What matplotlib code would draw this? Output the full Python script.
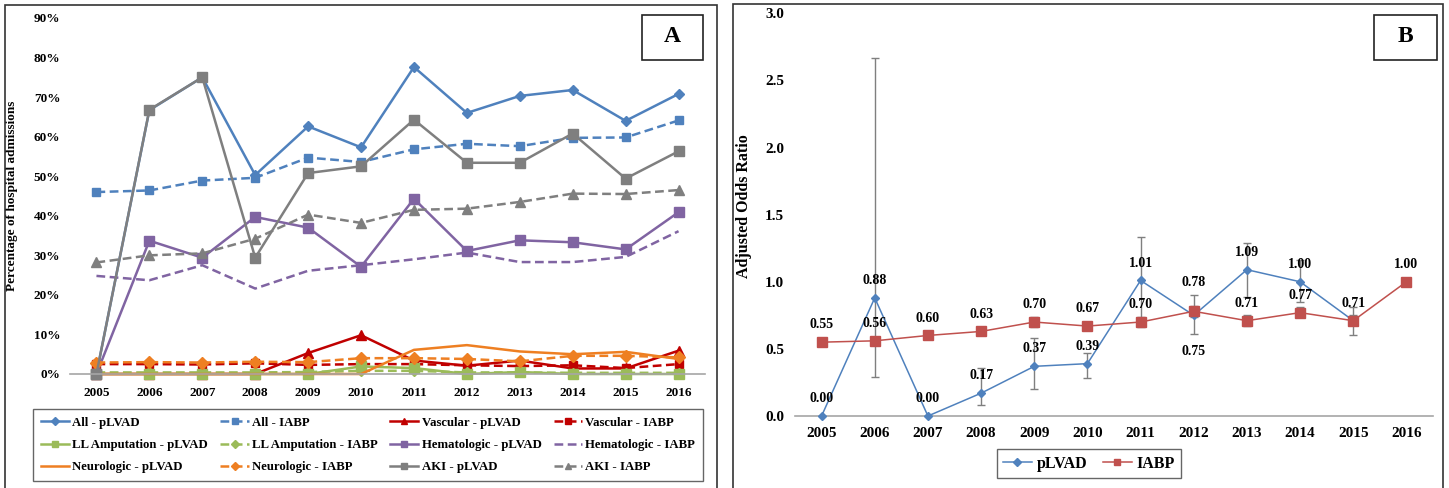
import numpy as np
import matplotlib
matplotlib.use('Agg')
from matplotlib import pyplot as plt
from matplotlib.patches import Rectangle
from matplotlib.ticker import FuncFormatter

# data
years = [2005, 2006, 2007, 2008, 2009, 2010, 2011, 2012, 2013, 2014, 2015, 2016]

# panel A, percentage of hospital admissions
all_plvad = [0, 66.7, 75.0, 50.3, 62.6, 57.3, 77.6, 66.0, 70.3, 71.8, 64.0, 70.8]
all_iabp = [46.0, 46.4, 48.9, 49.6, 54.7, 53.6, 56.8, 58.2, 57.6, 59.7, 59.8, 64.1]
vasc_plvad = [0, 0, 0, 0, 5.3, 9.8, 3.4, 2.1, 3.4, 1.4, 1.4, 5.9]
vasc_iabp = [2.5, 2.5, 2.4, 2.7, 2.3, 2.5, 2.5, 2.2, 2.0, 2.2, 1.5, 2.5]
ll_plvad = [0, 0, 0, 0, 0, 1.9, 1.5, 0, 0.5, 0, 0, 0]
ll_iabp = [0.4, 0.4, 0.4, 0.4, 0.5, 0.8, 0.8, 0.4, 0.4, 0.3, 0.3, 0.3]
hem_plvad = [0, 33.7, 29.4, 39.7, 37.0, 27.1, 44.3, 31.1, 33.8, 33.3, 31.5, 40.9]
hem_iabp = [24.8, 23.7, 27.5, 21.6, 26.1, 27.5, 29.0, 30.7, 28.3, 28.3, 29.6, 36.1]
neuro_plvad = [0, 0, 0, 0, 0, 0, 6.1, 7.3, 5.7, 5.0, 5.6, 3.8]
neuro_iabp = [2.9, 3.0, 2.9, 3.1, 3.0, 4.0, 4.0, 3.8, 3.2, 4.6, 4.6, 4.2]
aki_plvad = [0, 66.8, 75.0, 29.4, 50.8, 52.5, 64.3, 53.4, 53.4, 60.8, 49.4, 56.3]
aki_iabp = [28.2, 30.0, 30.5, 34.2, 40.3, 38.2, 41.5, 41.8, 43.5, 45.6, 45.5, 46.5]

# panel B, adjusted odds ratio (pLVAD has no 2016 value)
or_years_plvad = years[:11]
or_plvad = [0.00, 0.88, 0.00, 0.17, 0.37, 0.39, 1.01, 0.75, 1.09, 1.00, 0.71]
or_plvad_lo = [np.nan, 0.29, np.nan, 0.08, 0.20, 0.28, 0.72, 0.61, 0.89, 0.85, 0.60]
or_plvad_hi = [np.nan, 2.67, np.nan, 0.355, 0.58, 0.47, 1.33, 0.90, 1.29, 1.16, 0.81]
or_iabp = [0.55, 0.56, 0.60, 0.63, 0.70, 0.67, 0.70, 0.78, 0.71, 0.77, 0.71, 1.00]
or_iabp_lo = [0.53, 0.53, 0.57, 0.60, 0.66, 0.64, 0.66, 0.74, 0.67, 0.74, 0.68, np.nan]
or_iabp_hi = [0.57, 0.59, 0.63, 0.66, 0.74, 0.70, 0.74, 0.82, 0.75, 0.81, 0.75, np.nan]

BLUE = '#4F81BD'
DRED = '#C00000'
GREEN = '#9BBB59'
PURPLE = '#8064A2'
ORANGE = '#EE7F22'
GREY = '#7F7F7F'
RED = '#C0504D'

plt.rcParams['font.family'] = ['Liberation Serif', 'DejaVu Serif']
plt.rcParams['font.weight'] = 'bold'

fig = plt.figure(figsize=(14.49, 4.88), dpi=100)

# panel frames
fig.add_artist(Rectangle((5 / 1449, -0.05), 712 / 1449, 1.05 - 5 / 488,
                         transform=fig.transFigure, fill=False, ec='#333333', lw=1.2))
fig.add_artist(Rectangle((733 / 1449, -0.05), 710 / 1449, 1.05 - 4 / 488,
                         transform=fig.transFigure, fill=False, ec='#333333', lw=1.2))

# ---------------- panel A ----------------
axA = fig.add_axes([70 / 1449, 1 - 374 / 488, 635 / 1449, 356 / 488])
series = [
    ('All - pLVAD', all_plvad, BLUE, '-', 'D', 5.5),
    ('All - IABP', all_iabp, BLUE, '--', 's', 6),
    ('Vascular - pLVAD', vasc_plvad, DRED, '-', '^', 7),
    ('Vascular - IABP', vasc_iabp, DRED, '--', 's', 6),
    ('LL Amputation - pLVAD', ll_plvad, GREEN, '-', 's', 7),
    ('LL Amputation - IABP', ll_iabp, GREEN, '--', 'D', 5),
    ('Hematologic - pLVAD', hem_plvad, PURPLE, '-', 's', 7),
    ('Hematologic - IABP', hem_iabp, PURPLE, '--', None, 0),
    ('Neurologic - pLVAD', neuro_plvad, ORANGE, '-', None, 0),
    ('Neurologic - IABP', neuro_iabp, ORANGE, '--', 'D', 6),
    ('AKI - pLVAD', aki_plvad, GREY, '-', 's', 7),
    ('AKI - IABP', aki_iabp, GREY, '--', '^', 7),
]
handles = []
for label, vals, col, ls, mk, ms in series:
    h, = axA.plot(years, vals, color=col, ls=ls, lw=1.8, marker=mk, ms=ms,
                  mfc=col, mec=col, label=label, clip_on=False)
    if ls == '--':
        h.set_dashes((3.5, 1.8))
    handles.append(h)

axA.set_xlim(2004.5, 2016.5)
axA.set_ylim(0, 90)
axA.set_xticks(years)
axA.set_yticks(range(0, 91, 10))
axA.yaxis.set_major_formatter(FuncFormatter(lambda v, p: '%d%%' % v))
axA.tick_params(axis='both', length=0, labelsize=9.5)
axA.tick_params(axis='x', pad=9)
axA.tick_params(axis='y', pad=7)
for s in ['top', 'right', 'left']:
    axA.spines[s].set_visible(False)
axA.spines['bottom'].set_color('#A6A6A6')
axA.spines['bottom'].set_linewidth(1.2)
axA.set_ylabel('Percentage of hospital admissions', fontsize=9.5, fontweight='bold', labelpad=8)
axA.yaxis.set_label_coords(-52 / 635, 0.5)

# letter box
axA.text(672 / 1449, 1 - 37 / 488, 'A', transform=fig.transFigure, fontsize=17,
         fontweight='bold', ha='center', va='center')
fig.add_artist(Rectangle((642 / 1449, 1 - 60 / 488), 61 / 1449, 45 / 488,
                         transform=fig.transFigure, fill=False, ec='#222222', lw=1.2))

# legend, filled row by row
order = [0, 4, 8, 1, 5, 9, 2, 6, 10, 3, 7, 11]
leg = fig.legend([handles[i] for i in order], [series[i][0] for i in order],
                 loc='lower left', bbox_to_anchor=(33 / 1449, 1 - 481 / 488, 670 / 1449, 78 / 488),
                 mode='expand', ncol=4, fontsize=9.2, frameon=True, fancybox=False,
                 edgecolor='#404040', handlelength=2.2, handletextpad=0.25,
                 labelspacing=0.8, borderaxespad=0, columnspacing=0.4, borderpad=0.6)
leg.get_frame().set_linewidth(1.0)
for h in leg.legend_handles:
    h.set_markersize(4.5)

# ---------------- panel B ----------------
axB = fig.add_axes([795 / 1449, 1 - 416 / 488, 638 / 1449, 402.7 / 488])
lo = np.array(or_plvad) - np.array(or_plvad_lo)
hi = np.array(or_plvad_hi) - np.array(or_plvad)
axB.errorbar(or_years_plvad, or_plvad, yerr=[lo, hi], fmt='none', ecolor=GREY,
             elinewidth=1.0, capsize=3, capthick=1.0, zorder=2)
lo2 = np.array(or_iabp) - np.array(or_iabp_lo)
hi2 = np.array(or_iabp_hi) - np.array(or_iabp)
axB.errorbar(years, or_iabp, yerr=[lo2, hi2], fmt='none', ecolor=GREY,
             elinewidth=1.0, capsize=3, capthick=1.0, zorder=2)
pl, = axB.plot(or_years_plvad, or_plvad, color=BLUE, lw=1.1, marker='D', ms=4,
               label='pLVAD', zorder=3, clip_on=False)
ib, = axB.plot(years, or_iabp, color=RED, lw=1.1, marker='s', ms=6.5,
               label='IABP', zorder=4, clip_on=False)

lab_kw = dict(ha='center', va='center', fontsize=10, fontweight='bold', textcoords='offset points')
for i, (x, v) in enumerate(zip(or_years_plvad, or_plvad)):
    if x == 2015:
        continue
    dy = -26 if x == 2012 else 12.5
    axB.annotate('%.2f' % v, (x, v), xytext=(0, dy), **lab_kw)
for x, v in zip(years, or_iabp):
    dy = 21 if x == 2012 else 12.5
    axB.annotate('%.2f' % v, (x, v), xytext=(0, dy), **lab_kw)

axB.set_xlim(2004.5, 2016.5)
axB.set_ylim(0, 3.0)
axB.set_xticks(years)
axB.set_yticks(np.arange(0, 3.01, 0.5))
axB.yaxis.set_major_formatter(FuncFormatter(lambda v, p: '%.1f' % v))
axB.tick_params(axis='both', length=0, labelsize=11)
axB.tick_params(axis='x', pad=8)
axB.tick_params(axis='y', pad=8)
for s in ['top', 'right', 'left']:
    axB.spines[s].set_visible(False)
axB.spines['bottom'].set_color('#A6A6A6')
axB.spines['bottom'].set_linewidth(1.2)
axB.set_ylabel('Adjusted Odds Ratio', fontsize=11.5, fontweight='bold')
axB.yaxis.set_label_coords(-43 / 638, 0.52)

axB.text(1405 / 1449, 1 - 37 / 488, 'B', transform=fig.transFigure, fontsize=17,
         fontweight='bold', ha='center', va='center')
fig.add_artist(Rectangle((1374 / 1449, 1 - 60 / 488), 63 / 1449, 45 / 488,
                         transform=fig.transFigure, fill=False, ec='#222222', lw=1.2))

legB = fig.legend([pl, ib], ['pLVAD', 'IABP'], loc='center',
                  bbox_to_anchor=(1089 / 1449, 1 - 463.5 / 488), ncol=2, fontsize=11.5,
                  frameon=True, fancybox=False, edgecolor='#404040', handlelength=1.8,
                  handletextpad=0.3, columnspacing=1.0, borderpad=0.4)
legB.get_frame().set_linewidth(1.0)
for h in legB.legend_handles:
    h.set_markersize(4.5)

fig.savefig('out.png', dpi=100)
